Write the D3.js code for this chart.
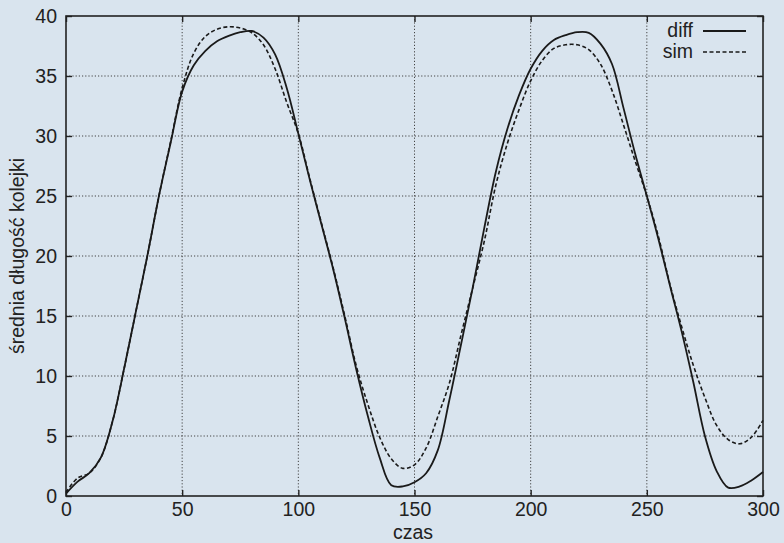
<!DOCTYPE html>
<html>
<head>
<meta charset="utf-8">
<script src="https://cdn.jsdelivr.net/npm/d3@7"></script>
<style>
html,body{margin:0;padding:0;background:#d9e4ee;}
svg{display:block;}
text{font-family:"Liberation Sans",Arial,Helvetica,sans-serif;fill:#222;}
</style>
</head>
<body>
<svg id="chart" width="784" height="543"></svg>
<script>
const time = [0,5,10,15,20,25,30,35,40,45,50,55,60,65,70,75,80,85,90,95,100,105,110,115,120,125,130,135,140,145,150,155,160,165,170,175,180,185,190,195,200,205,210,215,220,225,230,235,240,245,250,255,260,265,270,275,280,285,290,295,300];
const diffValues = [0.2,1.2,1.9,3.2,6.2,10.6,15.3,20.0,25.0,29.4,33.7,35.9,37.1,37.9,38.35,38.65,38.75,38.2,36.8,34.0,30.2,26.3,22.6,18.9,14.8,10.5,6.6,3.2,0.9,0.8,1.15,1.9,3.8,8.0,12.6,17.3,22.3,27.0,30.6,33.4,35.6,37.1,38.0,38.4,38.65,38.6,37.7,36.0,32.3,28.5,25.0,21.4,17.5,13.7,9.5,5.0,2.1,0.7,0.8,1.3,2.0];
const simValues = [0.3,1.5,1.9,3.2,6.2,10.6,15.3,20.0,25.0,29.5,34.0,36.9,38.3,38.9,39.1,39.0,38.6,37.6,35.6,32.8,30.2,26.4,22.7,19.0,15.0,10.8,7.6,4.9,3.1,2.3,2.6,4.0,6.6,9.4,13.4,17.3,21.2,25.9,29.4,32.2,34.6,36.3,37.3,37.6,37.6,37.2,36.0,33.8,30.9,27.9,25.0,21.6,17.6,14.1,10.9,8.2,5.9,4.7,4.35,4.9,6.3];
const xTicks = [0,50,100,150,200,250,300];
const yTicks = [0,5,10,15,20,25,30,35,40];
const seriesNames = ["diff","sim"];
const xLabel = "czas";
const yLabel = "średnia długość kolejki";

const svg = d3.select("#chart");
const m = {left:66, right:763, top:16, bottom:496};
const x = d3.scaleLinear().domain([0,300]).range([m.left,m.right]);
const y = d3.scaleLinear().domain([0,40]).range([m.bottom,m.top]);

svg.append("rect").attr("width",784).attr("height",543).attr("fill","#d9e4ee");

// grid
const grid = svg.append("g").attr("stroke","#444").attr("stroke-width",1).attr("stroke-dasharray","1.2,2");
grid.selectAll(".gx").data(xTicks.slice(1,-1)).enter().append("line")
  .attr("x1",d=>x(d)).attr("x2",d=>x(d)).attr("y1",m.top).attr("y2",m.bottom);
grid.selectAll(".gy").data(yTicks.slice(1,-1)).enter().append("line")
  .attr("y1",d=>y(d)).attr("y2",d=>y(d)).attr("x1",m.left).attr("x2",m.right);

// axes with inward ticks
const fs = "19.5px";
const ax = svg.append("g").attr("transform",`translate(0,${m.bottom})`)
  .call(d3.axisBottom(x).tickValues(xTicks).tickSizeInner(-6).tickSizeOuter(0));
const axT = svg.append("g").attr("transform",`translate(0,${m.top})`)
  .call(d3.axisTop(x).tickValues(xTicks).tickSizeInner(-6).tickSizeOuter(0).tickFormat(""));
const ay = svg.append("g").attr("transform",`translate(${m.left},0)`)
  .call(d3.axisLeft(y).tickValues(yTicks).tickSizeInner(-6).tickSizeOuter(0));
const ayR = svg.append("g").attr("transform",`translate(${m.right},0)`)
  .call(d3.axisRight(y).tickValues(yTicks).tickSizeInner(-6).tickSizeOuter(0).tickFormat(""));
[ax,axT,ay,ayR].forEach(g=>{
  g.select(".domain").remove();
  g.selectAll("line").attr("stroke","#222").attr("stroke-width",1.4);
  g.selectAll("text").style("font-size",fs).attr("fill","#222");
});
ax.selectAll("text").attr("dy",null).attr("y",20);
ay.selectAll("text").attr("x",-9).attr("dy","0.35em");

// frame
svg.append("rect").attr("x",m.left).attr("y",m.top).attr("width",m.right-m.left).attr("height",m.bottom-m.top)
  .attr("fill","none").attr("stroke","#222").attr("stroke-width",1.6);

// lines
const line = vals => d3.line().x((d,i)=>x(time[i])).y(d=>y(d)).curve(d3.curveCatmullRom.alpha(0.5))(vals);
svg.append("path").attr("d",line(diffValues)).attr("fill","none").attr("stroke","#1a1a1a").attr("stroke-width",1.8);
svg.append("path").attr("d",line(simValues)).attr("fill","none").attr("stroke","#1a1a1a").attr("stroke-width",1.6).attr("stroke-dasharray","4,2.5");

// legend
const leg = svg.append("g");
seriesNames.forEach((n,i)=>{
  const yy = 37 + i*21;
  leg.append("text").attr("x",693).attr("y",yy).attr("text-anchor","end").style("font-size",fs).text(n);
  leg.append("line").attr("x1",703).attr("x2",746).attr("y1",yy-6).attr("y2",yy-6)
    .attr("stroke","#1a1a1a").attr("stroke-width",i===0?1.8:1.6).attr("stroke-dasharray",i===0?null:"4,2.5");
});

// axis titles
svg.append("text").attr("x",413).attr("y",539).attr("text-anchor","middle").style("font-size",fs).text(xLabel);
svg.append("text").attr("transform",`translate(24,${(m.top+m.bottom)/2}) rotate(-90)`).attr("text-anchor","middle").style("font-size",fs).text(yLabel);
</script>
</body>
</html>
